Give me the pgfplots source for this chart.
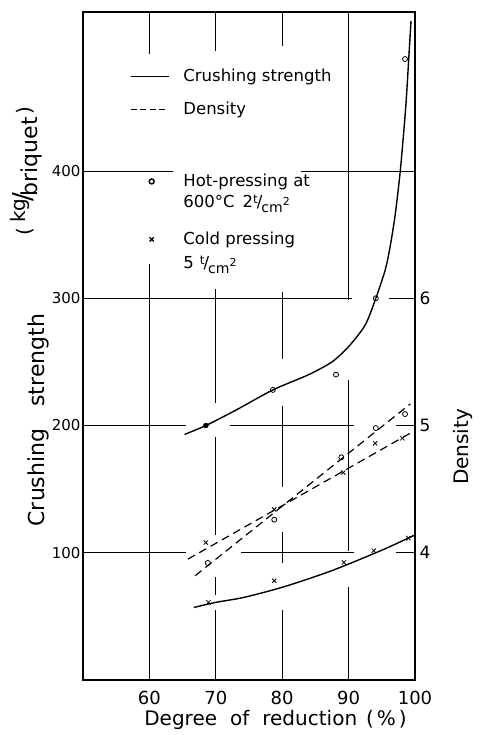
\documentclass[border=0pt]{standalone}
\usepackage{fontspec}
\setmainfont{DejaVu Sans}
\usepackage{pgfplots}
\pgfplotsset{compat=1.18}
\pgfplotsset{
 lrow/.style n args={2}{legend image code/.code={\path[draw=none,fill=none] (0pt,-#1) rectangle (38pt,#2);
   \draw[line width=1.4pt,mark repeat=2,mark phase=2,##1] plot coordinates {(0pt,5.5pt) (21pt,5.5pt) (38pt,5.5pt)};}},
 erow/.style n args={2}{legend image code/.code={\path[draw=none,fill=none] (0pt,-#1) rectangle (38pt,#2);}}
}
\newcommand{\fs}[1]{\fontsize{#1}{#1}\selectfont}
\begin{document}
\begin{tikzpicture}
\useasboundingbox (-83pt,-55pt) rectangle (396pt,680pt);
\begin{axis}[
 at={(0pt,0pt)}, anchor=south west,
 scale only axis, width=332pt, height=668pt,
 xmin=50, xmax=100, ymin=0, ymax=525,
 clip=false,
 axis line style={line width=1.3pt},
 xtick={60,70,80,90,100}, ytick={100,200,300,400},
 xtick pos=bottom, ytick pos=left,
 major tick length=0pt,
 /pgf/number format/assume math mode=true,
 xticklabel style={font=\fs{18}, yshift=-8pt},
 yticklabel style={font=\fs{15}, xshift=1pt},
 legend cell align=left,
 legend style={draw=none, fill=none, at={(0.1416,0.9207)}, anchor=north west,
   inner sep=0pt, outer sep=0pt, row sep=0pt, /tikz/column sep=14pt,
   nodes={inner sep=0pt, text height=0pt, text depth=0pt, font=\fs{16.5}}},
]
% grid segments
\begin{scope}[line width=0.8pt]
\draw (axis cs:60,525) -- (axis cs:60,492);
\draw (axis cs:60,327) -- (axis cs:60,0);
\draw (axis cs:70,525) -- (axis cs:70,494);
\draw (axis cs:70,307) -- (axis cs:70,218);
\draw (axis cs:70,191) -- (axis cs:70,114);
\draw (axis cs:70,81) -- (axis cs:70,67);
\draw (axis cs:70,55) -- (axis cs:70,0);
\draw (axis cs:80,525) -- (axis cs:80,498);
\draw (axis cs:80,305) -- (axis cs:80,252);
\draw (axis cs:80,215) -- (axis cs:80,152);
\draw (axis cs:80,116) -- (axis cs:80,92);
\draw (axis cs:80,55) -- (axis cs:80,0);
\draw (axis cs:90,525) -- (axis cs:90,299);
\draw (axis cs:90,236) -- (axis cs:90,101);
\draw (axis cs:90,73) -- (axis cs:90,0);
\draw (axis cs:50,400) -- (axis cs:63.5,400);
\draw (axis cs:82.9,400) -- (axis cs:100,400);
\draw (axis cs:50,300) -- (axis cs:90.5,300);
\draw (axis cs:96.1,300) -- (axis cs:100,300);
\draw (axis cs:50,200) -- (axis cs:65.5,200);
\draw (axis cs:72.1,200) -- (axis cs:90.8,200);
\draw (axis cs:97.1,200) -- (axis cs:100,200);
\draw (axis cs:50,100) -- (axis cs:65.5,100);
\draw (axis cs:73.8,100) -- (axis cs:90.8,100);
\draw (axis cs:97.1,100) -- (axis cs:100,100);
\end{scope}
% hot pressing crushing strength curve
\addplot[forget plot, black, line width=1.4pt, smooth, tension=0.45] coordinates {
(65.3,193) (68.5,200) (73,212) (78.6,228) (84,240) (87.5,250) (90,262)
(92.5,279) (94.1,300) (95.5,322) (96.2,339) (97,365) (97.8,401) (98.6,450)
(99.1,492) (99.4,518)};
\addplot[forget plot, only marks, mark=o, mark size=2.5pt, black, thick] coordinates {
(78.6,228) (88.1,240) (94.1,300) (98.5,488)};
\addplot[forget plot, only marks, mark=*, mark size=2.5pt, black] coordinates {(68.5,200)};
% cold pressing crushing strength curve
\addplot[forget plot, black, line width=1.4pt, smooth, tension=0.5] coordinates {
(66.7,57) (70,61) (74.3,65) (80.4,73.5) (87.5,86) (95,102) (100,114)};
\addplot[forget plot, only marks, mark=x, mark size=3pt, black, thick] coordinates {
(68.9,61) (78.8,78) (89.3,92.4) (93.8,101.6) (99,111.5)};
% legend
\addlegendimage{black, line width=1.4pt, lrow={16pt}{17pt}}
\addlegendentry{Crushing strength}
\addlegendimage{black, line width=1.4pt, dash pattern=on 6pt off 3.5pt, lrow={36pt}{17pt}}
\addlegendentry{Density}
\addlegendimage{only marks, mark=o, mark size=2.5pt, black, thick, lrow={10pt}{36pt}}
\addlegendentry{Hot-pressing at}
\addlegendimage{erow={18pt}{11pt}}
\addlegendentry{600°C\hspace{8pt}2\raisebox{0.5ex}{\fs{12}t}\kern-1pt/\kern-1pt\raisebox{-0.45ex}{\fs{14}cm\raisebox{0.9ex}{\fs{11}2}}}
\addlegendimage{only marks, mark=x, mark size=3pt, black, thick, lrow={12pt}{19pt}}
\addlegendentry{Cold pressing}
\addlegendimage{erow={10pt}{12pt}}
\addlegendentry{5\hspace{6pt}\raisebox{0.5ex}{\fs{12}t}\kern-1pt/\kern-1pt\raisebox{-0.45ex}{\fs{14}cm\raisebox{0.9ex}{\fs{11}2}}}
% labels
\node[font=\fs{20}] at ([yshift=-40pt]rel axis cs:0.58,0) {Degree\hspace{13pt}of\hspace{13pt}reduction\hspace{9pt}(\hspace{3pt}\%\hspace{3pt})};
\node[font=\fs{22}, rotate=90] at ([xshift=-45pt]rel axis cs:0,0.389) {Crushing\hspace{22pt}strength};
\node[font=\fs{20}, rotate=90] at ([xshift=-57pt]rel axis cs:0,0.762) {(\hspace{5pt}\raisebox{0.55ex}{\fs{20}kg}\kern-3pt{\fs{26}/}\kern-4pt\raisebox{-0.55ex}{\fs{22}briquet}\hspace{3pt})};
\node[font=\fs{20}, rotate=90] at ([xshift=48pt]rel axis cs:1,0.349) {Density};
\end{axis}
\begin{axis}[
 at={(0pt,0pt)}, anchor=south west,
 scale only axis, width=332pt, height=668pt,
 xmin=50, xmax=100, ymin=3, ymax=8.25,
 axis y line*=right, axis x line=none,
 axis line style={line width=1.3pt},
 ytick={4,5,6},
 major tick length=0pt,
 /pgf/number format/assume math mode=true,
 yticklabel style={font=\fs{17}, xshift=1pt},
]
\addplot[black, line width=1.2pt, dash pattern=on 8pt off 5pt] coordinates {(66.9,3.82) (99.3,5.17)};
\addplot[black, line width=1.2pt, dash pattern=on 8pt off 5pt] coordinates {(65.8,3.95) (99.3,4.94)};
\addplot[only marks, mark=o, mark size=2.5pt, black, thick] coordinates {
(68.8,3.92) (78.8,4.26) (88.9,4.75) (94.1,4.98) (98.5,5.09)};
\addplot[only marks, mark=x, mark size=3pt, black, thick] coordinates {
(68.5,4.08) (78.8,4.34) (89.2,4.63) (94,4.86) (98.1,4.90)};
\end{axis}
\end{tikzpicture}
\end{document}
